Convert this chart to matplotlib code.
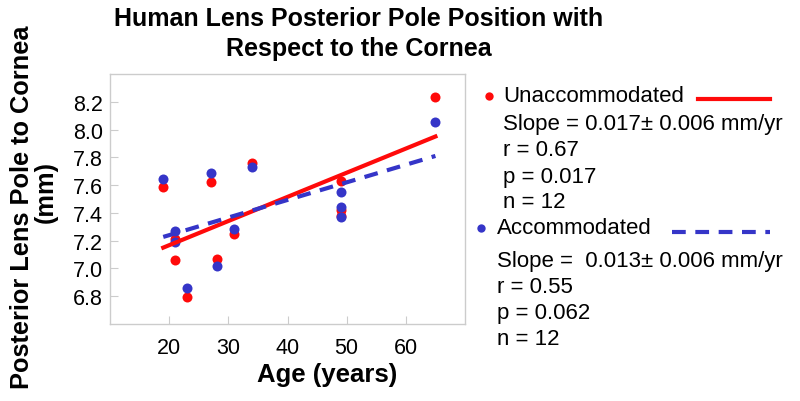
import matplotlib
matplotlib.use("Agg")
import matplotlib.pyplot as plt
from matplotlib.lines import Line2D

plt.rcParams['font.family'] = ['Liberation Sans', 'DejaVu Sans']

# Data
ages = [19, 21, 21, 23, 27, 28, 31, 34, 49, 49, 49, 65]
unaccommodated = [7.586, 7.21, 7.064, 6.793, 7.62, 7.068, 7.245, 7.76, 7.633, 7.418, 7.38, 8.236]
accommodated = [7.645, 7.27, 7.19, 6.86, 7.69, 7.016, 7.284, 7.729, 7.55, 7.44, 7.37, 8.056]
fit_x = [19, 65]
unacc_fit = [7.15, 7.95]
acc_fit = [7.227, 7.81]
xticks = [20, 30, 40, 50, 60]
yticks = [6.8, 7.0, 7.2, 7.4, 7.6, 7.8, 8.0, 8.2]

RED = "#ff0a0a"
BLUE = "#3535c8"

W, H = 800, 402
fig = plt.figure(figsize=(W / 100, H / 100), dpi=100)
ax = fig.add_axes([110 / W, 1 - 325 / H, (465 - 110) / W, (325 - 75) / H])

ax.plot(ages, unaccommodated, 'o', color=RED, ms=7.2, mec='none', zorder=3)
ax.plot(ages, accommodated, 'o', color=BLUE, ms=7.2, mec='none', zorder=4)
ax.plot(fit_x, unacc_fit, '-', color=RED, lw=3.0, zorder=5)
ax.plot(fit_x, acc_fit, color=BLUE, lw=3.0, dashes=(3.3, 2.3), zorder=5)

ax.set_xlim(10, 70)
ax.set_ylim(6.6, 8.4)
ax.set_xticks(xticks)
ax.set_yticks(yticks)
ax.set_yticklabels([f"{v:.1f}" for v in yticks])
ax.tick_params(direction='in', length=6, width=0.8, color='#cccccc', labelsize=15.5)
ax.tick_params(axis='x', pad=9)
ax.tick_params(axis='y', pad=5)
for s in ax.spines.values():
    s.set_color('#cccccc')
    s.set_linewidth(1.0)

fig.text(327 / W, 1 - 375 / H, "Age (years)", ha='center', va='center',
         fontsize=18.5, fontweight='bold')
fig.text(359 / W, 1 - 34 / H, "Human Lens Posterior Pole Position with\nRespect to the Cornea",
         ha='center', va='center', fontsize=18, fontweight='bold', linespacing=1.28)
fig.text(22 / W, 1 - 207 / H, "Posterior Lens Pole to Cornea", rotation=90,
         ha='center', va='center', fontsize=18.3, fontweight='bold')
fig.text(46 / W, 1 - 192 / H, "(mm)", rotation=90,
         ha='center', va='center', fontsize=18.3, fontweight='bold')

# Legend block
fs = 16
def ft(x, y, s):
    fig.text(x / W, 1 - y / H, s, ha='left', va='center', fontsize=fs)

fig.add_artist(Line2D([489 / W], [1 - 97 / H], marker='o', color=RED, ms=6, mec='none',
                      transform=fig.transFigure))
ft(503, 97, "Unaccommodated")
fig.add_artist(Line2D([698 / W, 770 / W], [1 - 100 / H, 1 - 100 / H], color=RED, lw=3.0,
                      transform=fig.transFigure))
ft(503, 125, "Slope = 0.017\u00b1 0.006 mm/yr")
ft(503, 151, "r = 0.67")
ft(503, 177, "p = 0.017")
ft(503, 203, "n = 12")

fig.add_artist(Line2D([481 / W], [1 - 229 / H], marker='o', color=BLUE, ms=6, mec='none',
                      transform=fig.transFigure))
ft(497, 229, "Accommodated")
fig.add_artist(Line2D([672 / W, 770 / W], [1 - 233 / H, 1 - 233 / H], color=BLUE, lw=3.0,
                      dashes=(3.3, 2.3), transform=fig.transFigure))
ft(497, 262, "Slope =  0.013\u00b1 0.006 mm/yr")
ft(497, 288, "r = 0.55")
ft(497, 314, "p = 0.062")
ft(497, 340, "n = 12")

fig.savefig("out.png", dpi=100)
